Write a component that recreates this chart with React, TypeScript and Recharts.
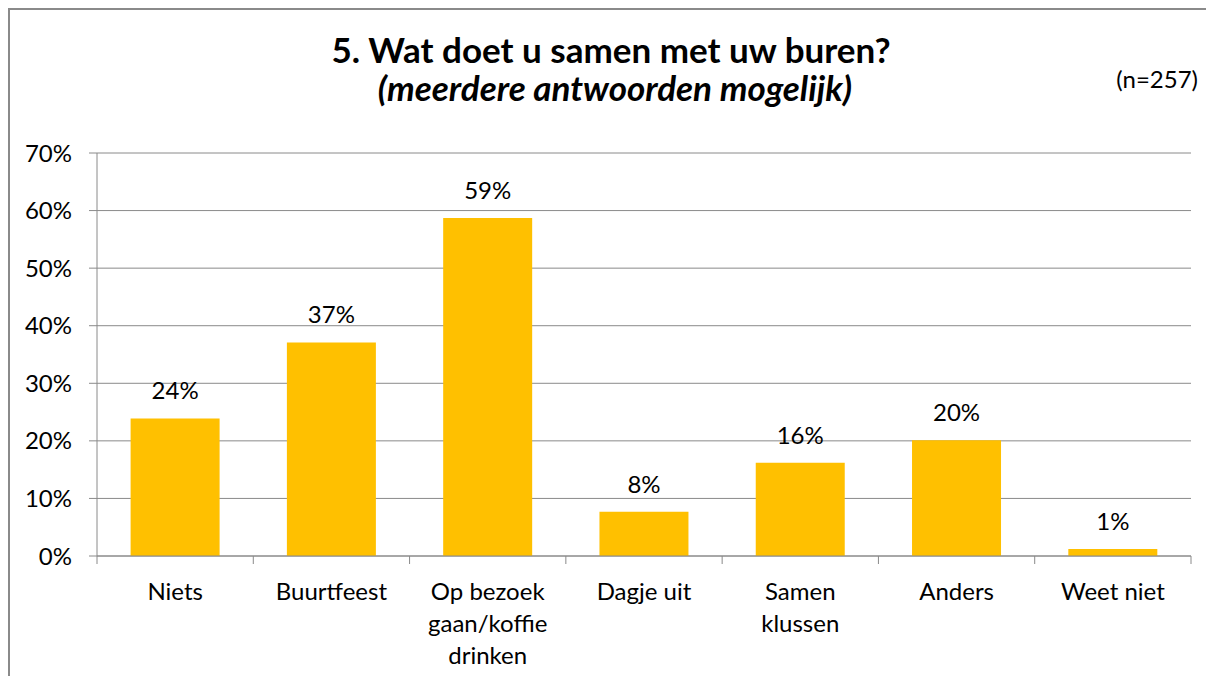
import React from "react";
import { Bar, BarChart, CartesianGrid, LabelList, XAxis, YAxis } from "recharts";

const categories = [
  "Niets",
  "Buurtfeest",
  "Op bezoek\ngaan/koffie\ndrinken",
  "Dagje uit",
  "Samen\nklussen",
  "Anders",
  "Weet niet",
];
const shares = [0.239, 0.371, 0.587, 0.077, 0.162, 0.201, 0.012];
const yTicks = [0, 0.1, 0.2, 0.3, 0.4, 0.5, 0.6, 0.7];

const title = "5. Wat doet u samen met uw buren?";
const subtitle = "(meerdere antwoorden mogelijk)";
const sampleNote = "(n=257)";

const W = 1198;
const H = 668;
const MARGIN = { top: 145, right: 15, bottom: 10, left: 0 };
const Y_AXIS_W = 89;
const BAND = (W - MARGIN.left - MARGIN.right - Y_AXIS_W) / categories.length;
const GRID = "#8a8a8a";
const GOLD = "#FFC000";
const FONT = "Lato, 'Open Sans', sans-serif";
const FS = 24;

const data = categories.map((name, i) => ({ name, share: shares[i] }));

const pct = (v: number) => `${Math.round(v * 100)}%`;

function CategoryTick(props: any) {
  const { x, y, payload, index } = props;
  const lines = String(payload.value).split("\n");
  return (
    <g>
      <line x1={x - BAND / 2} x2={x - BAND / 2} y1={y} y2={y + 8} stroke={GRID} />
      {index === categories.length - 1 && (
        <line x1={x + BAND / 2} x2={x + BAND / 2} y1={y} y2={y + 8} stroke={GRID} />
      )}
      <text x={x} y={y + 44} textAnchor="middle" fontSize={FS} fill="#000">
        {lines.map((l, i) => (
          <tspan key={i} x={x} dy={i === 0 ? 0 : 32}>
            {l}
          </tspan>
        ))}
      </text>
    </g>
  );
}

export default function App() {
  return (
    <div style={{ position: "relative", width: W, height: H, fontFamily: FONT, background: "#fff" }}>
      <BarChart width={W} height={H} data={data} margin={MARGIN} barCategoryGap="21.5%">
        <CartesianGrid vertical={false} stroke={GRID} />
        <XAxis
          dataKey="name"
          interval={0}
          height={110}
          axisLine={{ stroke: GRID }}
          tickLine={false}
          tickSize={0}
          tickMargin={0}
          tick={<CategoryTick />}
        />
        <YAxis
          width={Y_AXIS_W}
          domain={[0, 0.7]}
          ticks={yTicks}
          tickFormatter={pct}
          axisLine={{ stroke: GRID }}
          tickLine={{ stroke: GRID }}
          tickSize={8}
          tickMargin={17}
          tick={{ fill: "#000", fontSize: FS }}
        />
        <Bar dataKey="share" fill={GOLD} isAnimationActive={false}>
          <LabelList dataKey="share" position="top" offset={19} formatter={pct} fill="#000" fontSize={FS} />
        </Bar>
      </BarChart>
      <svg width={W} height={H} style={{ position: "absolute", left: 0, top: 0, pointerEvents: "none" }}>
        <line x1={0} x2={W} y1={1} y2={1} stroke={GRID} strokeWidth={2} />
        <line x1={1} x2={1} y1={0} y2={H} stroke={GRID} strokeWidth={2} />
        <text x={603} y={55} textAnchor="middle" fontSize={35} fontWeight="bold" fill="#000">
          {title}
        </text>
        <text x={607} y={93} textAnchor="middle" fontSize={35} fontWeight="bold" fontStyle="italic" fill="#000">
          {subtitle}
        </text>
        <text x={1190} y={80} textAnchor="end" fontSize={FS} fill="#000">
          {sampleNote}
        </text>
      </svg>
    </div>
  );
}
